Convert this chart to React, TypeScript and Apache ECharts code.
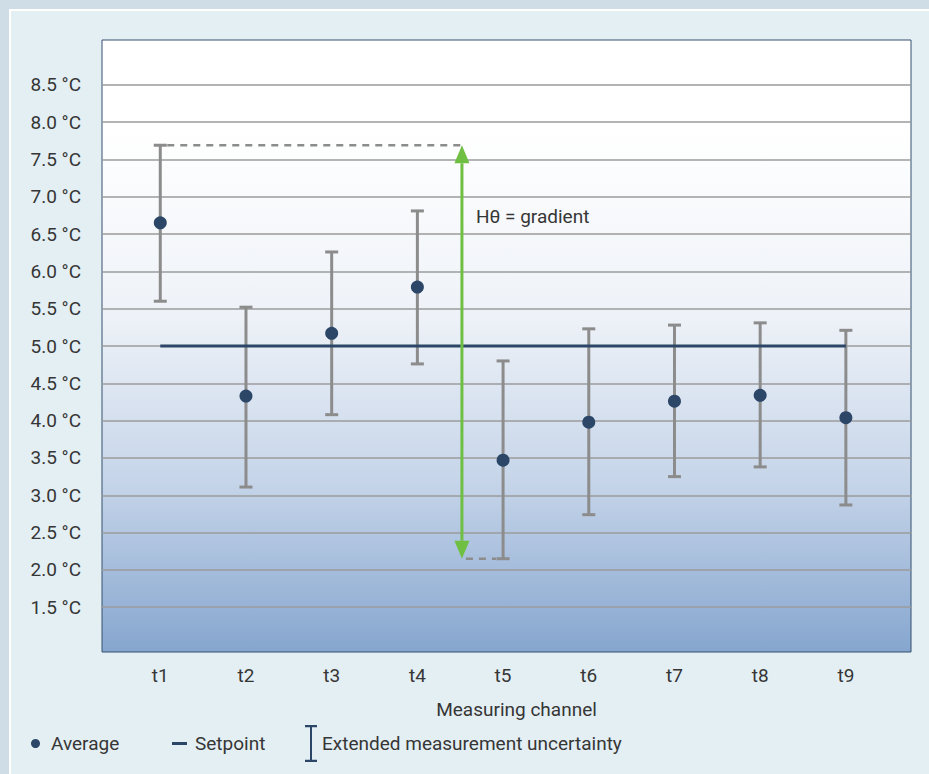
import React, { useEffect, useRef } from "react";
import * as echarts from "echarts";

const channels = ["t1", "t2", "t3", "t4", "t5", "t6", "t7", "t8", "t9"];
const averages = [6.65, 4.33, 5.17, 5.79, 3.47, 3.98, 4.26, 4.34, 4.04];
const upper = [7.69, 5.52, 6.26, 6.81, 4.8, 5.23, 5.28, 5.31, 5.21];
const lower = [5.6, 3.11, 4.08, 4.76, 2.15, 2.74, 3.25, 3.38, 2.87];
const setpoint = 5.0;
const yTicks = [1.5, 2.0, 2.5, 3.0, 3.5, 4.0, 4.5, 5.0, 5.5, 6.0, 6.5, 7.0, 7.5, 8.0, 8.5];
const gradientX = 4.52;
const gradientLabel = "Hθ = gradient";

const FONT = 'Roboto, "DejaVu Sans Condensed", sans-serif';
const FS = 19;
const TEXT = "#363636";
const NAVY = "#2b4667";
const GRAY = "#8c8c8c";
const GREEN = "#6fbf43";

export default function App() {
  const ref = useRef<HTMLDivElement>(null);

  useEffect(() => {
    if (!ref.current) return;
    const chart = echarts.init(ref.current, null, { renderer: "svg" });

    const xs = channels.map((_, i) => i + 1);
    const maxUp = Math.max(...upper);
    const iUp = upper.indexOf(maxUp) + 1;
    const minLow = Math.min(...lower);
    const iLow = lower.indexOf(minLow) + 1;

    const option: any = {
      animation: false,
      textStyle: { fontFamily: FONT },
      grid: {
        left: 102,
        top: 40,
        right: 18,
        bottom: 122,
        show: true,
        borderColor: "#34506f",
        borderWidth: 1,
        backgroundColor: new echarts.graphic.LinearGradient(0, 0, 0, 1, [
          { offset: 0, color: "#ffffff" },
          { offset: 0.15, color: "#ffffff" },
          { offset: 0.45, color: "#eef2f8" },
          { offset: 0.72, color: "#c6d5e9" },
          { offset: 1, color: "#86a6cf" },
        ]),
      },
      xAxis: {
        type: "value",
        min: 0.32,
        max: 9.76,
        name: "Measuring channel",
        nameLocation: "middle",
        nameGap: 48,
        nameTextStyle: { color: TEXT, fontSize: FS, fontFamily: FONT, padding: [0, 0, 0, 20] },
        axisLine: { show: false },
        axisTick: { show: false, customValues: xs },
        splitLine: { show: false },
        axisLabel: {
          customValues: xs,
          margin: 14,
          color: TEXT,
          fontSize: FS,
          fontFamily: FONT,
          formatter: (v: number) => channels[Math.round(v) - 1] ?? "",
        },
      },
      yAxis: {
        type: "value",
        min: 0.9,
        max: 9.1,
        axisLine: { show: false },
        axisTick: { show: false, customValues: yTicks },
        axisLabel: {
          customValues: yTicks,
          margin: 21,
          color: TEXT,
          fontSize: FS,
          fontFamily: FONT,
          formatter: (v: number) => v.toFixed(1) + " °C",
        },
        splitLine: { show: true, lineStyle: { color: "#9b9b9b", width: 1.5 } },
      },
      legend: [
        {
          left: 31,
          top: 734,
          padding: 0,
          selectedMode: false,
          itemWidth: 9,
          itemHeight: 9,
          icon: "circle",
          data: ["Average"],
          textStyle: { color: TEXT, fontSize: FS, fontFamily: FONT, padding: [0, 0, 0, 6] },
        },
        {
          left: 172,
          top: 734,
          padding: 0,
          selectedMode: false,
          itemWidth: 15,
          itemHeight: 3,
          icon: "rect",
          data: ["Setpoint"],
          textStyle: { color: TEXT, fontSize: FS, fontFamily: FONT, padding: [0, 0, 0, 3] },
        },
        {
          left: 305,
          top: 725,
          padding: 0,
          selectedMode: false,
          itemWidth: 12,
          itemHeight: 37,
          icon: "path://M0,0H12V2.2H7V34.8H12V37H0V34.8H5V2.2H0Z",
          data: ["Extended measurement uncertainty"],
          textStyle: { color: TEXT, fontSize: FS, fontFamily: FONT },
        },
      ],
      series: [
        {
          name: "Extended measurement uncertainty",
          type: "custom",
          itemStyle: { color: NAVY },
          data: xs.map((x, i) => [x, lower[i], upper[i]]),
          encode: { x: 0, y: [1, 2] },
          z: 2,
          renderItem: (params: any, api: any) => {
            const x = api.value(0);
            const lo = api.coord([x, api.value(1)]);
            const hi = api.coord([x, api.value(2)]);
            const hw = 6.5;
            const style = { stroke: GRAY, lineWidth: 3, fill: "none" };
            return {
              type: "group",
              children: [
                { type: "line", shape: { x1: hi[0], y1: hi[1], x2: lo[0], y2: lo[1] }, style },
                { type: "line", shape: { x1: hi[0] - hw, y1: hi[1], x2: hi[0] + hw, y2: hi[1] }, style },
                { type: "line", shape: { x1: lo[0] - hw, y1: lo[1], x2: lo[0] + hw, y2: lo[1] }, style },
              ],
            };
          },
        },
        {
          name: "Setpoint",
          type: "line",
          data: [
            [xs[0], setpoint],
            [xs[xs.length - 1], setpoint],
          ],
          showSymbol: false,
          symbol: "none",
          itemStyle: { color: NAVY },
          lineStyle: { color: NAVY, width: 3 },
          z: 3,
        },
        {
          name: "gradient",
          type: "custom",
          data: [[gradientX, minLow, maxUp, iUp, iLow]],
          encode: { x: 0, y: [1, 2] },
          z: 4,
          renderItem: (params: any, api: any) => {
            const gx = api.value(0);
            const lowV = api.value(1);
            const upV = api.value(2);
            const ux = api.value(3);
            const lx = api.value(4);
            const top = api.coord([gx, upV]);
            const bot = api.coord([gx, lowV]);
            const upStart = api.coord([ux, upV]);
            const lowEnd = api.coord([lx, lowV]);
            const labelPos = api.coord([gx, 6.73]);
            const dash = { stroke: GRAY, lineWidth: 2.5, lineDash: [7, 6], fill: "none" };
            const headL = 18;
            const headW = 7.5;
            return {
              type: "group",
              children: [
                { type: "line", shape: { x1: upStart[0] + 7, y1: top[1], x2: top[0], y2: top[1] }, style: dash },
                { type: "line", shape: { x1: bot[0] + 4, y1: bot[1], x2: lowEnd[0] - 7, y2: bot[1] }, style: dash },
                {
                  type: "line",
                  shape: { x1: top[0], y1: top[1] + headL, x2: bot[0], y2: bot[1] - headL },
                  style: { stroke: GREEN, lineWidth: 3 },
                },
                {
                  type: "polygon",
                  shape: { points: [[top[0], top[1]], [top[0] - headW, top[1] + headL], [top[0] + headW, top[1] + headL]] },
                  style: { fill: GREEN },
                },
                {
                  type: "polygon",
                  shape: { points: [[bot[0], bot[1]], [bot[0] - headW, bot[1] - headL], [bot[0] + headW, bot[1] - headL]] },
                  style: { fill: GREEN },
                },
                {
                  type: "text",
                  x: labelPos[0] + 14,
                  y: labelPos[1],
                  style: {
                    text: gradientLabel,
                    fill: TEXT,
                    fontSize: FS,
                    fontFamily: FONT,
                    verticalAlign: "middle",
                    align: "left",
                  },
                },
              ],
            };
          },
        },
        {
          name: "Average",
          type: "scatter",
          data: xs.map((x, i) => [x, averages[i]]),
          symbol: "circle",
          symbolSize: 13,
          itemStyle: { color: NAVY, opacity: 1 },
          z: 5,
        },
      ],
    };

    chart.setOption(option);
    return () => chart.dispose();
  }, []);

  return (
    <div style={{ position: "fixed", left: 0, top: 0, width: 929, height: 774, background: "#cfdde7", overflow: "hidden" }}>
      <div
        style={{
          position: "absolute",
          left: 9,
          top: 9,
          right: 0,
          bottom: 0,
          background: "#e4eff4",
          borderTop: "2px solid #ffffff",
          borderLeft: "2px solid #ffffff",
        }}
      />
      <div ref={ref} style={{ position: "absolute", left: 0, top: 0, width: 929, height: 774 }} />
    </div>
  );
}
